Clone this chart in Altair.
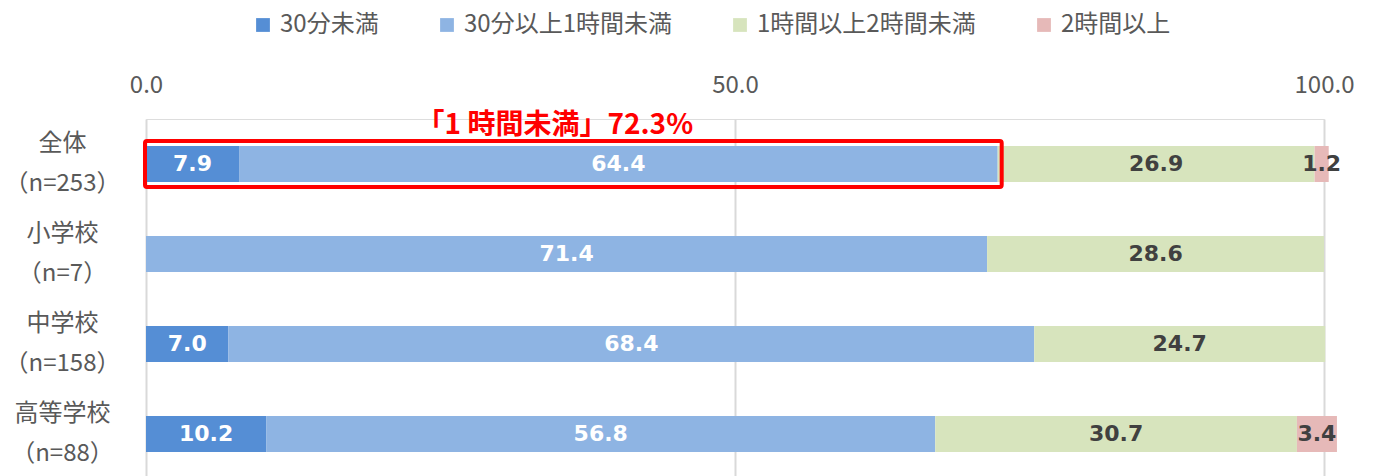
import altair as alt
import pandas as pd

groups = ["全体\n（n=253）", "小学校\n（n=7）", "中学校\n（n=158）", "高等学校\n（n=88）"]
series = ["30分未満", "30分以上1時間未満", "1時間以上2時間未満", "2時間以上"]
colors = ["#558ED5", "#8EB4E3", "#D7E4BD", "#E6B9B8"]
label_colors = ["#FFFFFF", "#FFFFFF", "#404040", "#404040"]
values = {
    "30分未満":        [7.9, None, 7.0, 10.2],
    "30分以上1時間未満": [64.4, 71.4, 68.4, 56.8],
    "1時間以上2時間未満": [26.9, 28.6, 24.7, 30.7],
    "2時間以上":        [1.2, None, None, 3.4],
}
x_ticks = [0, 50, 100]
highlight_group = "全体\n（n=253）"
highlight_total = 72.3
highlight_text = "「1 時間未満」72.3%"

rows = []
for gi, g in enumerate(groups):
    cum = 0.0
    for si, s in enumerate(series):
        v = values[s][gi]
        if v is None:
            continue
        rows.append({"group": g, "series": s, "order": si, "value": v,
                     "start": cum, "end": cum + v, "mid": cum + v / 2,
                     "label": f"{v:.1f}", "lc": label_colors[si]})
        cum += v
df = pd.DataFrame(rows)

JP = "Noto Sans CJK JP"
xscale = alt.Scale(domain=[0, 100], nice=False)
yenc = alt.Y("group:N", sort=groups, scale=alt.Scale(paddingInner=0.6, paddingOuter=0.3),
             axis=alt.Axis(title=None, labelExpr="split(datum.label, '\\n')",
                           labelAlign="center", labelPadding=84, tickSize=0, ticks=False,
                           domain=False, labelFontSize=24, labelLineHeight=40,
                           labelOffset=-20, labelLimit=0,
                           labelColor="#595959", labelFont=JP))

bars = alt.Chart(df).mark_bar().encode(
    x=alt.X("start:Q", scale=xscale,
            axis=alt.Axis(orient="top", values=x_ticks, format=".1f", title=None,
                          grid=True, gridColor="#D9D9D9", gridWidth=2, domain=False,
                          ticks=False, labelFontSize=24, labelColor="#595959",
                          labelPadding=22, labelFont=JP, labelFlush=False)),
    x2="end:Q",
    y=yenc,
    color=alt.Color("series:N", sort=series,
                    scale=alt.Scale(domain=series, range=colors),
                    legend=alt.Legend(orient="none", direction="horizontal", title=None,
                                      legendX=105, legendY=-106, symbolType="square",
                                      symbolSize=190, symbolStrokeWidth=0,
                                      labelFontSize=24, labelColor="#595959", labelLimit=0,
                                      labelFont=JP, columnPadding=56, labelOffset=5)),
    order="order:Q",
)

texts = alt.Chart(df).mark_text(fontSize=22, fontWeight="bold", font="DejaVu Sans").encode(
    x=alt.X("mid:Q", scale=xscale),
    y=alt.Y("group:N", sort=groups),
    text="label:N",
    color=alt.Color("lc:N", scale=None),
)

hl = pd.DataFrame([{"group": highlight_group, "start": 0, "end": highlight_total,
                    "mid": highlight_total / 2, "text": highlight_text}])
box = alt.Chart(hl).mark_bar(fillOpacity=0, stroke="#FF0000", strokeWidth=4, size=46,
                             cornerRadius=2, xOffset=-1, x2Offset=4).encode(
    x=alt.X("start:Q", scale=xscale), x2="end:Q", y=alt.Y("group:N", sort=groups))
note = alt.Chart(hl).mark_text(color="#FF0000", fontSize=28, fontWeight="bold", font=JP,
                               dy=-38, dx=-17).encode(
    x=alt.X("mid:Q", scale=xscale), y=alt.Y("group:N", sort=groups), text="text:N")

chart = alt.layer(bars, texts, box, note).properties(
    width=1178, height=360,
    autosize=alt.AutoSizeParams(type="none"),
    padding={"left": 146, "top": 119, "right": 49, "bottom": 0},
).configure_view(stroke=None).configure(background="white")

chart.save("out.html", embed_options={"renderer": "svg", "actions": False})
